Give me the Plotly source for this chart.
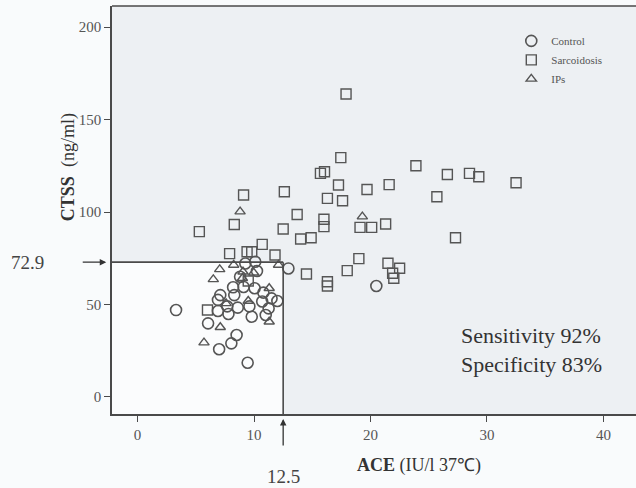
import plotly.graph_objects as go

# ---- data ----
control_x = [3.3, 6.05, 7.0, 8.05, 8.5, 9.45, 6.9, 7.8, 8.6, 7.1, 8.2, 8.3, 9.8, 11.0, 10.7,
             10.05, 10.8, 12.0, 11.25, 11.5, 12.95, 10.1, 10.25, 9.25, 8.8, 9.1, 7.7, 20.5, 6.9, 9.6]
control_y = [47, 39.8, 25.8, 29, 33.5, 18.5, 46.5, 44.9, 48.3, 55.1, 59.3, 55.1, 43.4, 44.3, 51.6,
             58.8, 56.4, 51.9, 47.9, 53.3, 69.5, 73.1, 68.1, 72.2, 65, 59.5, 49, 60, 52.5, 49]

sarc_x = [17.9, 17.45, 15.7, 16.05, 17.25, 12.6, 16.3, 17.6, 19.7, 21.6, 23.9, 26.6, 28.5, 29.3,
          32.5, 25.7, 27.3, 13.7, 12.5, 16.0, 16.0, 14.0, 14.9, 19.1, 20.1, 21.3, 10.7, 11.8, 19.0,
          18.0, 14.5, 16.3, 16.3, 21.5, 22.5, 21.9, 22.0, 9.1, 8.3, 5.3, 7.9, 9.4, 9.8, 6.0, 9.5]
sarc_y = [163.8, 129.4, 120.9, 121.8, 114.6, 111, 107.4, 106.1, 112.2, 114.8, 125, 120.3, 120.9, 119.1,
          115.8, 108.3, 86.1, 98.7, 90.8, 96.1, 92.1, 85.4, 86.1, 91.7, 91.7, 93.5, 82.5, 76.8, 74.8,
          68.3, 66.5, 62.3, 60, 72.3, 69.6, 66.9, 64.2, 109.2, 93.3, 89.4, 77.5, 78.5, 78.5, 47, 62.7]

ips_x = [7.05, 6.5, 8.25, 9.05, 9.97, 12.1, 11.3, 9.5, 7.6, 11.3, 7.1, 5.7, 9.0, 8.8, 19.3]
ips_y = [69, 63.6, 71.4, 67.7, 67.2, 71.4, 58.8, 51.9, 50.6, 40.7, 37.7, 29.4, 64.2, 100.2, 97.5]

ace_cut = 12.5
ctss_cut = 72.9
x_range = [-2.2, 42.8]
y_range = [-9.2, 211.4]
x_ticks = [0, 10, 20, 30, 40]
y_ticks = [0, 50, 100, 150, 200]

SERIF = "Liberation Serif, Times New Roman, serif"
MCOL = "#555555"
AX = "#4a4a4a"

fig = go.Figure()
fig.add_trace(go.Scatter(x=control_x, y=control_y, mode="markers", name="Control",
                         marker=dict(symbol="circle-open", size=11, color=MCOL, line=dict(width=1.6, color=MCOL))))
fig.add_trace(go.Scatter(x=sarc_x, y=sarc_y, mode="markers", name="Sarcoidosis",
                         marker=dict(symbol="square-open", size=10, color=MCOL, line=dict(width=1.4, color=MCOL))))
fig.add_trace(go.Scatter(x=ips_x, y=ips_y, mode="markers", name="IPs",
                         marker=dict(symbol="triangle-up-open", size=9, color=MCOL, line=dict(width=1.4, color=MCOL))))

# white region below cut-offs
fig.add_shape(type="rect", xref="x", yref="y", x0=x_range[0], x1=ace_cut, y0=y_range[0], y1=ctss_cut,
              fillcolor="#fbfcfd", line=dict(width=0), layer="below")
fig.add_shape(type="line", xref="x", yref="y", x0=x_range[0], x1=ace_cut, y0=ctss_cut, y1=ctss_cut,
              line=dict(color=AX, width=1.6))
fig.add_shape(type="line", xref="x", yref="y", x0=ace_cut, x1=ace_cut, y0=y_range[0], y1=ctss_cut,
              line=dict(color=AX, width=1.6))
# top frame line
fig.add_shape(type="line", xref="paper", yref="paper", x0=0, x1=1, y0=1, y1=1,
              line=dict(color=AX, width=1.6))

ann = []
# arrow for 72.9
ann.append(dict(xref="paper", yref="y", x=-0.011, y=ctss_cut, text="", showarrow=True,
                ax=-25, ay=0, arrowhead=2, arrowsize=1, arrowwidth=1.3, arrowcolor="#333"))
ann.append(dict(xref="paper", yref="y", x=-0.162, y=ctss_cut, text=str(ctss_cut), showarrow=False,
                xanchor="center", yanchor="middle",
                font=dict(family=SERIF, size=19, color="#444")))
# arrow for 12.5
ann.append(dict(xref="x", yref="paper", x=ace_cut, y=-0.012, text="", showarrow=True,
                ax=0, ay=28, arrowhead=2, arrowsize=1, arrowwidth=1.3, arrowcolor="#333"))
ann.append(dict(xref="x", yref="paper", x=ace_cut, y=-0.152, text=str(ace_cut), showarrow=False,
                xanchor="center", yanchor="middle",
                font=dict(family=SERIF, size=19, color="#444")))
# axis titles
ann.append(dict(xref="paper", yref="paper", x=0.586, y=-0.125, text="<b>ACE</b> (IU/l 37\u2103)",
                xanchor="center", yanchor="middle",
                showarrow=False, font=dict(family=SERIF, size=18, color="#333")))
ann.append(dict(xref="paper", yref="paper", x=-0.084, y=0.605, text="<b>CTSS</b>  (ng/ml)",
                xanchor="center", yanchor="middle",
                textangle=-90, showarrow=False, font=dict(family=SERIF, size=18, color="#333")))
# sensitivity / specificity
ann.append(dict(xref="paper", yref="paper", x=0.662, y=0.157, xanchor="left", yanchor="middle",
                text="Sensitivity 92%<br>Specificity 83%", align="left", showarrow=False,
                font=dict(family=SERIF, size=22, color="#333")))

fig.update_layout(
    width=636, height=488, autosize=False,
    margin=dict(l=112, r=0, t=6, b=74),
    paper_bgcolor="#f9fbfc", plot_bgcolor="#edf0f3",
    annotations=ann,
    showlegend=True,
    legend=dict(x=0.762, y=0.95, xanchor="left", yanchor="top", bgcolor="rgba(0,0,0,0)",
                font=dict(family=SERIF, size=11, color="#555"), tracegroupgap=0, itemwidth=30),
    xaxis=dict(range=x_range, tickvals=x_ticks, showgrid=False, zeroline=False,
               showline=True, linecolor=AX, linewidth=1.6, ticks="outside", ticklen=6,
               tickcolor=AX, tickwidth=1.3, tickfont=dict(family=SERIF, size=15, color="#555")),
    yaxis=dict(range=y_range, tickvals=y_ticks, showgrid=False, zeroline=False,
               showline=True, linecolor=AX, linewidth=1.6, ticks="outside", ticklen=6,
               tickcolor=AX, tickwidth=1.3, tickfont=dict(family=SERIF, size=15, color="#555")),
)

fig.write_html("out.html")
